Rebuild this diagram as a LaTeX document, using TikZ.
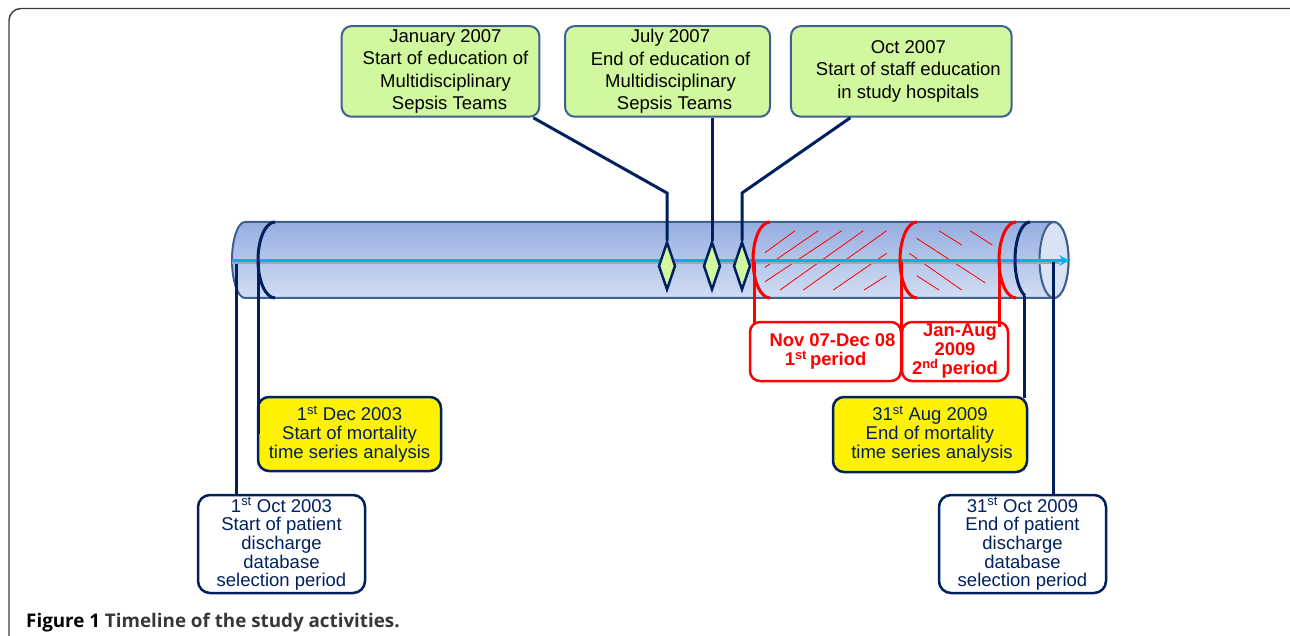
\documentclass[tikz,border=0pt]{standalone}
\usepackage{fontspec}
\setmainfont{Liberation Sans}
\newfontfamily\capfont{Open Sans}
\usetikzlibrary{shapes.geometric,arrows.meta}
\definecolor{navy}{RGB}{0,32,96}
\definecolor{boxblue}{RGB}{62,96,146}
\definecolor{greenfill}{RGB}{209,248,158}
\definecolor{cyltop}{RGB}{150,174,224}
\definecolor{cylbot}{RGB}{210,221,243}
\definecolor{cylface}{RGB}{218,227,245}
\definecolor{cylline}{RGB}{62,96,140}
\definecolor{axisblue}{RGB}{0,176,240}
\definecolor{redc}{RGB}{255,0,0}
\definecolor{framec}{RGB}{60,60,60}
\definecolor{capgrey}{RGB}{55,55,55}
\begin{document}
\begin{tikzpicture}[x=1pt,y=-1pt,
  topbox/.style={draw=boxblue, line width=2pt, fill=greenfill, rounded corners=10pt,
    inner sep=0pt, align=center, text=black, font=\fontsize{18.5}{22.2}\selectfont},
  ybox/.style={draw=navy, line width=2.5pt, fill=yellow, rounded corners=11pt,
    inner sep=0pt, align=center, text=navy, font=\fontsize{18.5}{19}\selectfont},
  wbox/.style={draw=navy, line width=2.5pt, fill=white, rounded corners=12pt,
    inner sep=0pt, align=center, text=navy, font=\fontsize{18.5}{18.7}\selectfont},
  rbox/.style={draw=redc, line width=2.5pt, fill=white, rounded corners=10pt,
    inner sep=0pt, align=center, text=redc, font=\fontsize{18.4}{19}\selectfont\bfseries},
  dmd/.style={diamond, draw=navy, line width=2.5pt, fill=greenfill, inner sep=0pt,
    minimum width=17pt, minimum height=48pt},
  navyline/.style={draw=navy, line width=3pt},
  redline/.style={draw=redc, line width=3pt},
  hatch/.style={draw=redc, line width=0.8pt}]
\useasboundingbox (0,0) rectangle (1290,636);

% frame
\draw[framec, line width=1.4pt, rounded corners=12pt] (9,650) -- (9,8.5) -- (1300,8.5);

% cylinder body
\path[top color=cyltop, bottom color=cylbot] (245,222) -- (1054,222)
  arc[start angle=-90, end angle=90, x radius=14.5, y radius=38] -- (245,298)
  arc[start angle=90, end angle=270, x radius=13, y radius=38] -- cycle;
\draw[cylline, line width=2pt] (245,222) -- (1054,222)
  arc[start angle=-90, end angle=90, x radius=14.5, y radius=38] -- (245,298)
  arc[start angle=90, end angle=270, x radius=13, y radius=38] -- cycle;
\filldraw[fill=cylface, draw=cylline, line width=2pt] (1054,260) ellipse [x radius=14.5, y radius=38];

% hatching, 1st period
\draw[hatch] (765,252.7) -- (795,230.7);
\draw[hatch] (765,267.3) -- (818.3,230.7);
\draw[hatch] (765,281.7) -- (841.7,230.7);
\draw[hatch] (780,290) -- (863.3,230.7);
\draw[hatch] (803.3,290) -- (886.7,230.7);
\draw[hatch] (833.3,290) -- (886.7,253.3);
\draw[hatch] (864,290) -- (886.7,275.7);
% hatching, 2nd period
\draw[hatch] (939,230.7) -- (961.7,245);
\draw[hatch] (970,230.7) -- (992.3,245);
\draw[hatch] (916.7,238.3) -- (985,282.7);
\draw[hatch] (909.3,253.3) -- (961.7,290);
\draw[hatch] (916.7,275.7) -- (939,290);

% axis
\draw[gray!70, line width=1.5pt] (232,263) -- (1060,263);
\draw[axisblue, line width=2.6pt, -{Stealth[length=10pt,width=11pt,inset=4pt]}] (232,260.5) -- (1069,260.5);

% top boxes
\node[topbox, minimum width=197.6pt, minimum height=90.7pt] (t1) at (440.5,71.4)
  {\hspace*{10pt}January 2007\\\hspace*{10pt}Start of education of\\\hspace*{10pt}Multidisciplinary\\\hspace*{18pt}Sepsis Teams};
\node[topbox, minimum width=205pt, minimum height=90.7pt] (t2) at (667.5,71.4)
  {\hspace*{6pt}July 2007\\\hspace*{6pt}End of education of\\\hspace*{6pt}Multidisciplinary\\\hspace*{14pt}Sepsis Teams};
\node[topbox, minimum width=220.7pt, minimum height=90.7pt] (t3) at (901.3,71.4)
  {\hspace*{14pt}Oct 2007\\\hspace*{14pt}Start of staff education\\\hspace*{14pt}in study hospitals};

% diamonds
\node[dmd] (d1) at (667,266) {};
\node[dmd] (d2) at (712,266) {};
\node[dmd] (d3) at (742,266) {};
\coordinate (k1) at (667,193);
\coordinate (k3) at (742,193);
\draw[navyline] ([xshift=-7pt]t1.south east) -- (k1) -- (d1.north);
\draw[navyline] (t2.south -| d2.north) -- (d2.north);
\draw[navyline] ([xshift=-51pt]t3.south) -- (k3) -- (d3.north);

% bottom boxes
\node[ybox, minimum width=183pt, minimum height=74pt] (y1) at (349.5,434)
  {1\textsuperscript{st} Dec 2003\\Start of mortality\\time series analysis};
\node[wbox, minimum width=167pt, minimum height=98pt] (w1) at (281.5,544)
  {1\textsuperscript{st} Oct 2003\\Start of patient\\discharge\\database\\selection period};
\node[ybox, minimum width=194pt, minimum height=75pt] (y2) at (930,434.5)
  {31\textsuperscript{st} Aug 2009\\End of mortality\\\hspace*{4pt}time series analysis};
\node[wbox, minimum width=167pt, minimum height=98pt] (w2) at (1022.5,544)
  {31\textsuperscript{st} Oct 2009\\End of patient\\discharge\\database\\selection period};
\node[rbox, minimum width=151pt, minimum height=59pt] (r1) at (825.5,351.5)
  {\hspace*{14pt}Nov 07-Dec 08\\1\textsuperscript{st}\,period};
\node[rbox, minimum width=106pt, minimum height=59pt] (r2) at (955,351.5)
  {\hspace*{10pt}Jan-Aug\\2009\\2\textsuperscript{nd}\,period};

% navy arcs and verticals
\coordinate (lc) at (236,264);
\draw[navyline] (lc) -- (lc |- w1.north);
\draw[navyline] (275,222) arc[start angle=-90, end angle=-270, x radius=17, y radius=38];
\coordinate (na1) at (258.5,260);
\draw[navyline] (na1) -- (na1 |- y1.west);
\draw[navyline] (1030,222) arc[start angle=-90, end angle=-250, x radius=15, y radius=38] coordinate (na2);
\draw[navyline] (na2) -- ([yshift=-2pt]na2 |- y2.north);
\coordinate (rc) at (1053,262);
\draw[navyline] (rc) -- (rc |- w2.north);

% red arcs and verticals
\draw[redline] (770,222) arc[start angle=-90, end angle=-270, x radius=17, y radius=38];
\draw[redline] (917,222) arc[start angle=-90, end angle=-270, x radius=17, y radius=38];
\draw[redline] (1016,222) arc[start angle=-90, end angle=-270, x radius=17, y radius=38];
\coordinate (ra1) at (754,262);
\coordinate (ra2) at (901.5,262);
\coordinate (ra3) at (999,262);
\draw[redline] (ra1) -- ([yshift=-4pt]ra1 |- r1.north);
\draw[redline] (ra2) -- ([yshift=-8pt]ra2 |- r1.north);
\draw[redline] (ra3) -- ([yshift=-6pt]ra3 |- r2.north);

% caption
\node[anchor=base west, inner sep=0pt, font=\capfont\fontsize{18.8}{22}\selectfont\bfseries] (cap) at (26,627)
  {Figure 1 \textcolor{capgrey}{Timeline of the study activities.}};
\end{tikzpicture}
\end{document}
